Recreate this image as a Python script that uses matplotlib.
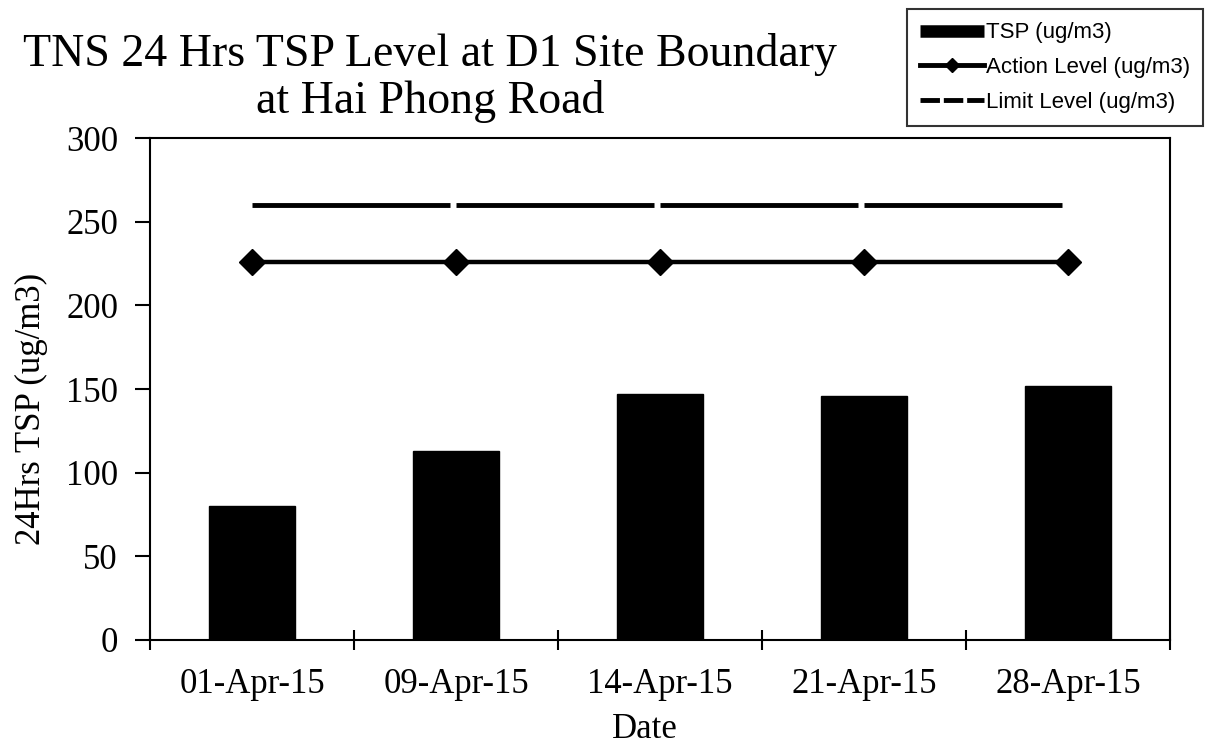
import numpy as np
import matplotlib.pyplot as plt
from matplotlib.lines import Line2D

# valeurs
dates = ["01-Apr-15", "09-Apr-15", "14-Apr-15", "21-Apr-15", "28-Apr-15"]
tsp = [80, 113, 147, 146, 152]
action_level = [226, 226, 226, 226, 226]
limit_level = [260, 260, 260, 260, 260]

serif = "Liberation Serif"
sans = "Liberation Sans"

fig = plt.figure(figsize=(12.08, 7.54), dpi=100)
ax = fig.add_axes([150 / 1208, 1 - 640 / 754, 1020 / 1208, 502 / 754])

x = np.arange(len(dates))

ax.bar(x, tsp, width=0.42, color="black", edgecolor="black", zorder=2)

# ligne d'action avec losanges
ax.plot(x, action_level, color="black", lw=3.2, marker="D", ms=13,
        zorder=3)

# ligne limite : tirets longs, une coupure à chaque date
lw_lim = 3.5
seg_pt = 1020 / 5 * 0.72
gap_pt = 6 * 0.72
ax.plot(x, limit_level, color="black", lw=lw_lim, dash_capstyle="butt",
        linestyle=(0, ((seg_pt - gap_pt) / lw_lim, gap_pt / lw_lim)),
        zorder=3)

ax.set_xlim(-0.5, len(dates) - 0.5)
ax.set_ylim(0, 300)
ax.set_yticks(np.arange(0, 301, 50))
ax.set_xticks(x)
ax.set_xticklabels(dates, fontfamily=serif, fontsize=25)
ax.tick_params(axis="x", length=0, pad=20)
ax.set_xticks(np.arange(-0.5, len(dates), 1), minor=True)
ax.tick_params(axis="x", which="minor", direction="inout", length=14,
               width=1.5)
ax.tick_params(axis="y", direction="out", length=11, width=1.5, pad=12,
               labelsize=25)
for lab in ax.get_yticklabels():
    lab.set_fontfamily(serif)

for s in ax.spines.values():
    s.set_linewidth(1.5)

ax.set_xlabel("Date", fontfamily=serif, fontsize=25)
ax.set_ylabel("24Hrs TSP (ug/m3)", fontfamily=serif, fontsize=25)
ax.xaxis.set_label_coords(0.485, -0.145)
ax.xaxis.label.set_va("top")
ax.yaxis.label.set_va("center")
ax.yaxis.set_label_coords(-0.116, 0.46)

fig.text(430 / 1208, 1 - 78 / 754,
         "TNS 24 Hrs TSP Level at D1 Site Boundary\nat Hai Phong Road",
         ha="center", va="center", fontfamily=serif, fontsize=33,
         linespacing=1.12)

# légende (objets de remplacement pour le style)
handles = [
    Line2D([0], [0], color="black", lw=9, solid_capstyle="butt"),
    Line2D([0], [0], color="black", lw=3.5, marker="D", ms=7),
    Line2D([0], [0], color="black", lw=3.5, linestyle=(0, (4, 0.8)),
           dash_capstyle="butt"),
]
labels = ["TSP (ug/m3)", "Action Level (ug/m3)", "Limit Level (ug/m3)"]
leg = fig.legend(handles, labels, loc="upper right",
                 bbox_to_anchor=(1203 / 1208, 1 - 9 / 754),
                 prop={"family": sans, "size": 16},
                 frameon=True, fancybox=False, handlelength=2.9,
                 handletextpad=0.05, labelspacing=0.62, borderpad=0.6,
                 borderaxespad=0)
leg.get_frame().set_edgecolor("black")
leg.get_frame().set_linewidth(1.5)

fig.savefig("out.png", dpi=100)
